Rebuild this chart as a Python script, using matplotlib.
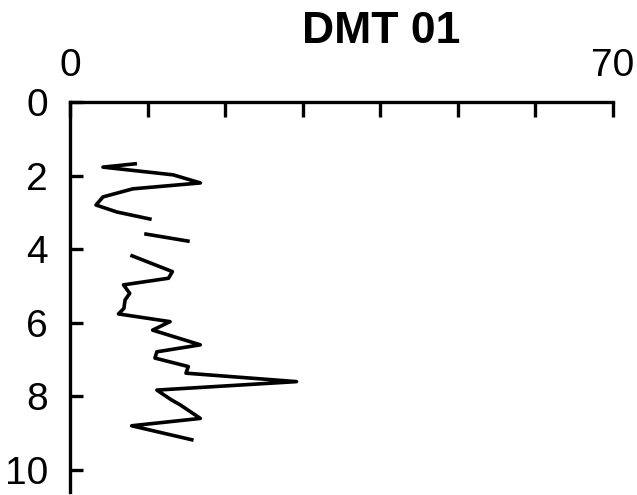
import numpy as np
import matplotlib
matplotlib.use("Agg")
import matplotlib.pyplot as plt

# depth (m) and value, NaN marks a gap in the profile
depth = [1.68, 1.77, 1.98, 2.20, 2.36, 2.58, 2.80, 2.99, 3.18, 3.40,
         3.59, 3.78, 4.00,
         4.18, 4.61, 4.79, 4.97, 5.20, 5.38, 5.61, 5.76, 5.97, 6.20,
         6.60, 6.79, 6.96, 7.19, 7.37, 7.60, 7.83, 8.10, 8.23, 8.60,
         8.80, 9.18]
value = [8.4, 4.25, 13.3, 16.8, 8.1, 4.25, 3.35, 6.05, 10.3, np.nan,
         9.8, 15.2, np.nan,
         8.0, 13.2, 12.7, 6.9, 7.7, 7.1, 6.95, 6.25, 12.9, 10.65,
         16.8, 11.2, 10.95, 15.25, 14.95, 29.2, 11.2, 13.1, 14.2, 16.8,
         7.95, 15.7]

title = "DMT 01"
x_ticks = list(range(0, 71, 10))
x_labels = ["0", "", "", "", "", "", "", "70"]
y_ticks = [0, 2, 4, 6, 8, 10]

plt.rcParams['font.family'] = ['Liberation Sans', 'DejaVu Sans']

fig = plt.figure(figsize=(6.37, 4.95), dpi=100)
ax = fig.add_axes([70 / 637, 3 / 495, 543 / 637, 390 / 495])

ax.plot(value, depth, color="black", lw=2.6)

ax.set_xlim(0, 70)
ax.set_ylim(10.6, 0)
ax.set_xticks(x_ticks)
ax.set_xticklabels(x_labels)
ax.set_yticks(y_ticks)

ax.xaxis.tick_top()
ax.spines["right"].set_visible(False)
ax.spines["bottom"].set_visible(False)
for s in ("top", "left"):
    ax.spines[s].set_linewidth(2.4)

ax.tick_params(axis="x", direction="in", length=11, width=2.4, pad=13, labelsize=28)
ax.tick_params(axis="y", direction="in", length=9.5, width=2.4, pad=16, labelsize=28)

fig.text(381 / 637, 1 - 43 / 495, title, ha="center", va="baseline",
         fontsize=32, fontweight="bold")

fig.savefig("out.png", dpi=100)
plt.close()
